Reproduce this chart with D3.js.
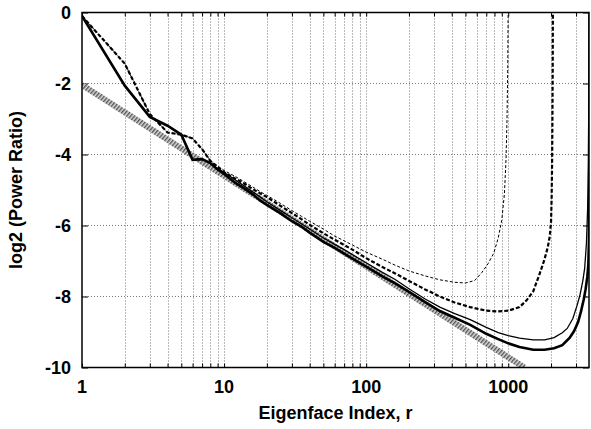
<!DOCTYPE html>
<html><head><meta charset="utf-8">
<script src="https://cdn.jsdelivr.net/npm/d3@7"></script>
<style>
html,body{margin:0;padding:0;background:#fff;}
text{font-family:"Liberation Sans",Arial,sans-serif;font-weight:bold;fill:#000;}
</style></head>
<body><svg id="chart" width="591" height="429"></svg>
<script>
// ---------- data ----------
const xMajorTicks = [1, 10, 100, 1000];
const xGridTicks = [2,3,4,5,6,7,8,9,10,20,30,40,50,60,70,80,90,100,200,300,400,500,600,700,800,900,1000,2000,3000];
const yTicks = [0, -2, -4, -6, -8, -10];
const xLabel = "Eigenface Index, r";
const yLabel = "log2 (Power Ratio)";

const referenceLine = [[1, -2.04], [1297, -10]];

const solidThick = [[1,-0.1],[2,-2.06],[3,-2.94],[4,-3.19],[5,-3.44],[6,-4.15],[7,-4.13],[8,-4.24],[9,-4.42],[10,-4.55],[12,-4.8],[14,-4.97],[16,-5.13],[18,-5.3],[20,-5.42],[25,-5.66],[30,-5.88],[35,-6.03],[40,-6.2],[50,-6.46],[60,-6.63],[70,-6.79],[80,-6.93],[100,-7.16],[130,-7.43],[160,-7.63],[200,-7.87],[260,-8.16],[330,-8.41],[420,-8.6],[540,-8.8],[700,-9.05],[850,-9.2],[1000,-9.32],[1200,-9.42],[1500,-9.5],[1800,-9.5],[2100,-9.46],[2400,-9.37],[2700,-9.17],[2900,-8.98],[3100,-8.72],[3250,-8.42],[3400,-8.08],[3500,-7.8],[3600,-7.45],[3660,-7.1],[3700,-6.4],[3730,-4],[3760,0.5]];

const solidThin = [[1,-0.1],[2,-2.06],[3,-2.94],[4,-3.19],[5,-3.44],[6,-4.15],[7,-4.13],[8,-4.24],[9,-4.4],[10,-4.5],[12,-4.72],[14,-4.9],[16,-5.06],[18,-5.2],[20,-5.33],[25,-5.58],[30,-5.78],[35,-5.95],[40,-6.1],[50,-6.35],[60,-6.53],[70,-6.68],[80,-6.82],[100,-7.05],[130,-7.32],[160,-7.52],[200,-7.78],[260,-8.07],[330,-8.3],[420,-8.48],[540,-8.65],[700,-8.87],[850,-9.02],[1000,-9.1],[1200,-9.17],[1500,-9.22],[1800,-9.22],[2100,-9.16],[2400,-9.02],[2600,-8.9],[2850,-8.62],[3050,-8.25],[3200,-7.95],[3350,-7.55],[3450,-7.2],[3550,-6.5],[3620,-5.5],[3660,-4.2],[3680,-3],[3695,-1.5],[3705,0.5]];

const dashedThick = [[1,-0.1],[2,-1.44],[3,-2.86],[4,-3.38],[5,-3.44],[6,-3.55],[7,-3.85],[8,-4.18],[9,-4.35],[10,-4.5],[12,-4.68],[14,-4.83],[16,-4.98],[18,-5.1],[20,-5.2],[25,-5.45],[30,-5.65],[35,-5.82],[40,-5.98],[50,-6.22],[60,-6.4],[70,-6.55],[80,-6.68],[100,-6.92],[130,-7.17],[160,-7.35],[200,-7.56],[260,-7.8],[330,-8.0],[420,-8.17],[540,-8.3],[700,-8.4],[850,-8.42],[1000,-8.4],[1200,-8.3],[1350,-8.1],[1500,-7.85],[1650,-7.4],[1800,-6.95],[1900,-6.6],[1960,-6.3],[2000,-5.9],[2020,-5.2],[2035,-4.2],[2045,-3],[2055,-1.6],[2062,0.5]];

const dashedThin = [[1,-0.1],[2,-1.44],[3,-2.86],[4,-3.38],[5,-3.44],[6,-3.55],[7,-3.85],[8,-4.17],[9,-4.32],[10,-4.45],[12,-4.62],[14,-4.78],[16,-4.92],[18,-5.05],[20,-5.15],[25,-5.38],[30,-5.58],[35,-5.74],[40,-5.88],[50,-6.1],[60,-6.3],[70,-6.43],[80,-6.55],[100,-6.75],[130,-6.95],[160,-7.12],[200,-7.28],[260,-7.42],[330,-7.53],[420,-7.6],[500,-7.62],[580,-7.55],[650,-7.33],[720,-7.08],[790,-6.78],[850,-6.35],[900,-5.85],[940,-5.1],[965,-4.1],[980,-3.0],[992,-1.5],[1000,0.5]];

// ---------- layout ----------
const svg = d3.select("#chart");
const L = 82, R = 589, T = 12.5, B = 367.5;
const x = d3.scaleLog().domain([1, 3700]).range([L, R]);
const y = d3.scaleLinear().domain([-10, 0]).range([B, T]);

const defs = svg.append("defs");
defs.append("clipPath").attr("id","clip").append("rect")
  .attr("x", L).attr("y", T).attr("width", R-L).attr("height", B-T);
const pat = defs.append("pattern").attr("id","hatch").attr("width",3).attr("height",3)
  .attr("patternUnits","userSpaceOnUse").attr("patternTransform","rotate(40)");
pat.append("rect").attr("width",3).attr("height",3).attr("fill","#d8d8d8");
pat.append("rect").attr("width",1.4).attr("height",3).attr("fill","#555");

// grid
const gGrid = svg.append("g");
gGrid.selectAll("line.v").data(xGridTicks).join("line")
  .attr("x1", d => Math.round(x(d)) + 0.5).attr("x2", d => Math.round(x(d)) + 0.5)
  .attr("y1", T).attr("y2", B)
  .attr("stroke", "#777").attr("stroke-width", 1).attr("stroke-dasharray", "1,2");
gGrid.selectAll("line.h").data(yTicks.filter(d => d > -10 && d < 0)).join("line")
  .attr("x1", L).attr("x2", R)
  .attr("y1", d => y(d)).attr("y2", d => y(d))
  .attr("stroke", "#777").attr("stroke-width", 1).attr("stroke-dasharray", "1,2");

// axes (ticks inward, mirrored)
const axB = svg.append("g").attr("transform", `translate(0,${B})`)
  .call(d3.axisBottom(x).tickValues(xGridTicks.concat([1])).tickSize(-4).tickFormat(""));
const axT = svg.append("g").attr("transform", `translate(0,${T})`)
  .call(d3.axisTop(x).tickValues(xGridTicks.concat([1])).tickSize(-4).tickFormat(""));
const axL = svg.append("g").attr("transform", `translate(${L},0)`)
  .call(d3.axisLeft(y).tickValues(yTicks).tickSize(-6).tickFormat(""));
const axR = svg.append("g").attr("transform", `translate(${R},0)`)
  .call(d3.axisRight(y).tickValues(yTicks).tickSize(-6).tickFormat(""));
[axB, axT, axL, axR].forEach(g => { g.select(".domain").remove(); g.selectAll("line").attr("stroke","#000"); });

// tick labels
svg.append("g").selectAll("text").data(xMajorTicks).join("text")
  .attr("x", d => x(d)).attr("y", 393).attr("text-anchor","middle")
  .attr("font-size", 18).text(d => d);
svg.append("g").selectAll("text").data(yTicks).join("text")
  .attr("x", 71).attr("y", d => y(d)).attr("dy","0.36em").attr("text-anchor","end")
  .attr("font-size", 18).text(d => d);

// axis titles
svg.append("text").attr("x", (L+R)/2).attr("y", 419).attr("text-anchor","middle")
  .attr("font-size", 18).text(xLabel);
svg.append("text").attr("transform", `translate(22,${(T+B)/2}) rotate(-90)`)
  .attr("text-anchor","middle").attr("font-size", 18).text(yLabel);

// curves
const line = d3.line().x(d => x(d[0])).y(d => y(d[1]));
const gC = svg.append("g").attr("clip-path","url(#clip)");
gC.append("path").datum(referenceLine).attr("d", line)
  .attr("fill","none").attr("stroke","url(#hatch)").attr("stroke-width", 6);
gC.append("path").datum(dashedThin).attr("d", line)
  .attr("fill","none").attr("stroke","#000").attr("stroke-width", 1).attr("stroke-dasharray","3,2");
gC.append("path").datum(dashedThick).attr("d", line)
  .attr("fill","none").attr("stroke","#000").attr("stroke-width", 2.2).attr("stroke-dasharray","4,2");
gC.append("path").datum(solidThin).attr("d", line)
  .attr("fill","none").attr("stroke","#000").attr("stroke-width", 1.3);
gC.append("path").datum(solidThick).attr("d", line)
  .attr("fill","none").attr("stroke","#000").attr("stroke-width", 2.6);

// frame
svg.append("rect").attr("x", L).attr("y", T).attr("width", R-L).attr("height", B-T)
  .attr("fill","none").attr("stroke","#000").attr("stroke-width", 1.5);
</script></body></html>
